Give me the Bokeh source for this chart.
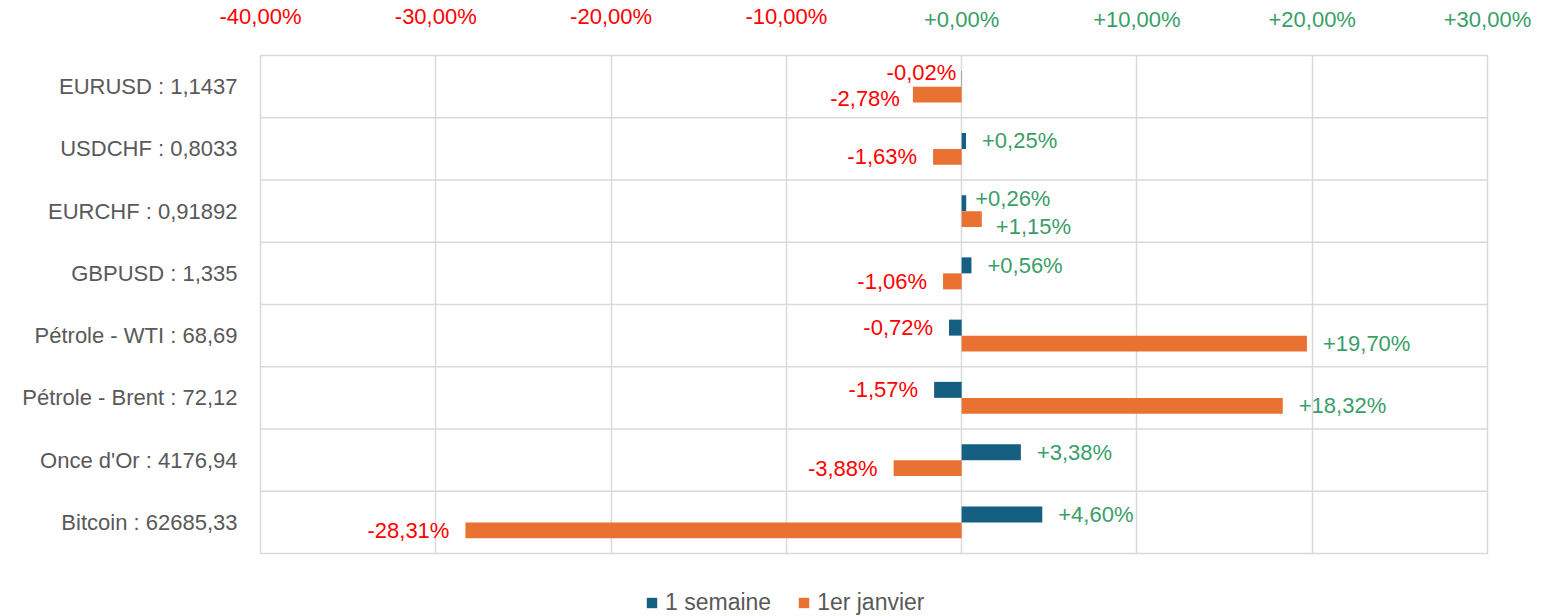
from bokeh.plotting import figure
from bokeh.layouts import column
from bokeh.models import (ColumnDataSource, FactorRange, Range1d, FixedTicker, Span, Grid,
                          Legend, LegendItem, LinearAxis, CustomJSTickFormatter)
from bokeh.transform import dodge
from bokeh.core.properties import value
from bokeh.embed import file_html
from bokeh.resources import INLINE

# ---------------- data ----------------
categories = ["EURUSD : 1,1437", "USDCHF : 0,8033", "EURCHF : 0,91892", "GBPUSD : 1,335",
              "Pétrole - WTI : 68,69", "Pétrole - Brent : 72,12", "Once d'Or : 4176,94",
              "Bitcoin : 62685,33"]
week = [-0.02, 0.25, 0.26, 0.56, -0.72, -1.57, 3.38, 4.60]
ytd = [-2.78, -1.63, 1.15, -1.06, 19.70, 18.32, -3.88, -28.31]
x_ticks = [-40, -30, -20, -10, 0, 10, 20, 30]
series_names = ["1 semaine", "1er janvier"]

# label placement tweaks (Excel collision avoidance), in pixels
week_gap = [5, 16, 9, 16, 16, 16, 16, 16]
week_dy = [-6, 0, -5, 0, 0, 0, 0, 0]
ytd_gap = [13, 16, 14, 16, 16, 16, 16, 16]
ytd_dy = [4, 0, 7, 0, 0, 0, 0, 0]

# ---------------- style ----------------
FONT = "Liberation Sans"
FS = "22px"
BLUE = "#156082"
ORANGE = "#E97132"
RED = "#FF0000"
GREEN = "#3A9E68"
GRAY_TXT = "#595959"
GRID = "#D9D9D9"
COLORS = [BLUE, ORANGE]


def fmt(v):
    return ("-" if v < 0 else "+") + f"{abs(v):.2f}".replace(".", ",") + "%"


p = figure(frame_width=1227, frame_height=498,
           y_range=FactorRange(factors=categories[::-1], range_padding=0),
           x_range=Range1d(-40, 30), x_axis_location=None,
           output_backend="svg", toolbar_location=None,
           min_border_left=260, min_border_right=52, min_border_top=55,
           min_border_bottom=28)

p.outline_line_color = GRID
p.outline_line_width = 1.5
p.xgrid.visible = False
p.ygrid.visible = False

fmt_js = CustomJSTickFormatter(code="""
    const s = Math.abs(tick).toFixed(2).replace('.', ',');
    return (tick < 0 ? '-' : '+') + s + '%';
""")

# two top axes: positive labels in green, negative labels in red (overlaid)
neg_ticks = [t for t in x_ticks if t < 0]
pos_ticks = [t for t in x_ticks if t >= 0]
ax_pos = LinearAxis(ticker=FixedTicker(ticks=pos_ticks), formatter=fmt_js,
                    major_label_standoff=24, major_label_text_color=GREEN)
ax_neg = LinearAxis(ticker=FixedTicker(ticks=neg_ticks), formatter=fmt_js,
                    major_label_standoff=-25, major_label_text_color=RED)
for ax in (ax_pos, ax_neg):
    ax.axis_line_color = None
    ax.major_tick_line_color = None
    ax.minor_tick_line_color = None
    ax.major_tick_in = 0
    ax.major_tick_out = 0
    ax.major_label_text_font = FONT
    ax.major_label_text_font_size = FS
    p.add_layout(ax, "above")

p.add_layout(Grid(dimension=0, ticker=FixedTicker(ticks=x_ticks),
                  grid_line_color=GRID, grid_line_width=1.5))

p.yaxis.axis_line_color = None
p.yaxis.major_tick_line_color = None
p.yaxis.minor_tick_line_color = None
p.yaxis.major_tick_in = 0
p.yaxis.major_tick_out = 0
p.yaxis.major_label_standoff = 23
p.yaxis.major_label_text_font = FONT
p.yaxis.major_label_text_font_size = FS
p.yaxis.major_label_text_color = GRAY_TXT

for i in range(1, len(categories)):
    p.add_layout(Span(location=i, dimension="width", line_color=GRID, line_width=1.5))

src = ColumnDataSource(dict(cat=categories, week=week, ytd=ytd))
BH = 0.257
OFF = 0.1285
r_week = p.hbar(y=dodge("cat", OFF, range=p.y_range), left=0, right="week", height=BH,
                fill_color=BLUE, line_color=None, source=src)
r_ytd = p.hbar(y=dodge("cat", -OFF, range=p.y_range), left=0, right="ytd", height=BH,
               fill_color=ORANGE, line_color=None, source=src)


def add_labels(vals, gaps, dys, off):
    for positive in (True, False):
        idx = [i for i, v in enumerate(vals) if (v >= 0) == positive]
        s = ColumnDataSource(dict(
            cat=[categories[i] for i in idx],
            x=[vals[i] for i in idx],
            t=[fmt(vals[i]) for i in idx],
            dx=[(gaps[i] if positive else -gaps[i]) for i in idx],
            dy=[dys[i] for i in idx],
        ))
        p.text(x="x", y=dodge("cat", off, range=p.y_range), text="t", source=s,
               x_offset="dx", y_offset="dy",
               text_align="left" if positive else "right", text_baseline="middle",
               text_font=value(FONT), text_font_size=FS,
               text_color=GREEN if positive else RED)


add_labels(week, week_gap, week_dy, OFF)
add_labels(ytd, ytd_gap, ytd_dy, -OFF)

# ---------------- legend strip below the chart ----------------
# (same series drawn out of view, only so that the legend has its glyphs)
lg = figure(width=1539, height=35, x_range=Range1d(-40, 30), y_range=Range1d(0, 1),
            x_axis_location=None, y_axis_location=None, output_backend="svg",
            toolbar_location=None, min_border=0)
lg.outline_line_color = None
lg.xgrid.visible = False
lg.ygrid.visible = False
items = []
for name, col, field in zip(series_names, COLORS, ["week", "ytd"]):
    r = lg.hbar(y=value(-10), left=0, right=field, height=1, fill_color=col,
                line_color=None, source=src)
    items.append(LegendItem(label=name, renderers=[r]))
legend = Legend(items=items, orientation="horizontal", location=(385, 0),
                label_text_font=FONT, label_text_font_size="23px",
                label_text_color=GRAY_TXT, glyph_width=13, glyph_height=13,
                label_standoff=7, spacing=26, padding=0, margin=0,
                border_line_color=None, background_fill_alpha=0)
lg.add_layout(legend, "center")

layout = column(p, lg, spacing=0)
open("out.html", "w").write(file_html(layout, INLINE))
